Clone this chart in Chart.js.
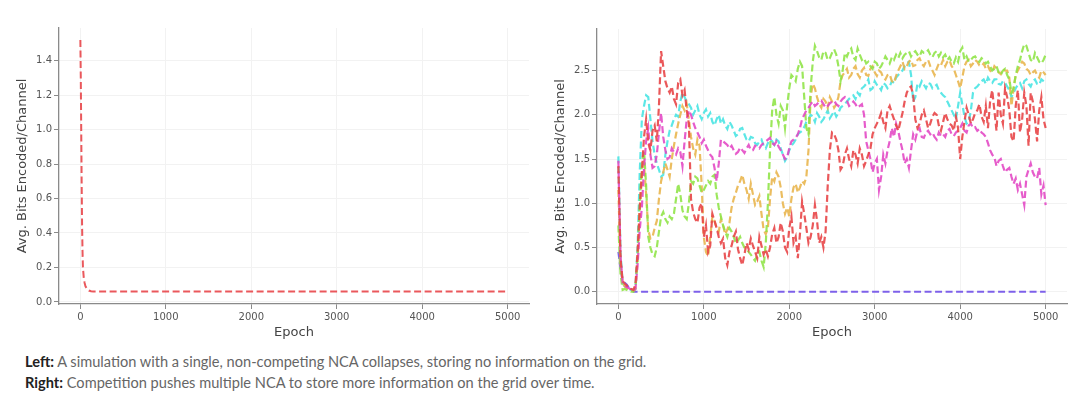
<!DOCTYPE html>
<html>
<head>
<meta charset="utf-8">
<script src="https://cdn.jsdelivr.net/npm/chart.js@4.4.1/dist/chart.umd.min.js"></script>
<style>
  html, body { margin: 0; padding: 0; background: #fff; }
  body { width: 1080px; height: 399px; position: relative; overflow: hidden; }
  .panel { position: absolute; top: 0; width: 540px; height: 345px; }
  #leftPanel { left: 0; }
  #rightPanel { left: 540px; }
  .caption {
    position: absolute; left: 25px; top: 351px;
    font-family: Lato, "Open Sans", sans-serif; font-size: 14.6px; line-height: 21px; color: #666;
  }
  .caption b { color: #222; }
</style>
</head>
<body>
<div class="panel" id="leftPanel"><canvas id="leftChart" width="540" height="345"></canvas></div>
<div class="panel" id="rightPanel"><canvas id="rightChart" width="540" height="345"></canvas></div>
<div class="caption">
  <div><b>Left:</b> A simulation with a single, non-competing NCA collapses, storing no information on the grid.</div>
  <div><b>Right:</b> Competition pushes multiple NCA to store more information on the grid over time.</div>
</div>

<script>
/* ---------- données ---------- */
const X_TICKS = [0, 1000, 2000, 3000, 4000, 5000];
const LEFT_Y_TICKS = [0, 0.2, 0.4, 0.6, 0.8, 1.0, 1.2, 1.4];
const RIGHT_Y_TICKS = [0, 0.5, 1.0, 1.5, 2.0, 2.5];

// panneau gauche : un seul NCA
const SOLO_EPOCHS = [0, 5, 10, 15, 20, 25, 30, 40, 50, 60, 80, 100, 125, 150, 5000];
const SOLO_BITS = [1.52, 1.3, 1.0, 0.7, 0.45, 0.3, 0.2, 0.14, 0.11, 0.09, 0.075, 0.066, 0.062, 0.06, 0.06];

// panneau droit : une valeur toutes les 25 époques (0 → 5000)
const EPOCHS = Array.from({ length: 201 }, (_, i) => 25 * i);

const RED = [
  1.42, 0.38, 0.12, 0.09, 0.07, 0.05, 0.03, 0.02, 0.08, 0.45, 0.95, 1.35, 1.75,
  1.95, 1.68, 1.6, 1.82, 1.88, 1.7, 2.1, 2.72, 2.55, 2.38, 2.3, 2.25, 2.32, 2.18, 2.12, 2.36, 2.4, 2.22, 2.28, 2.05,
  1.9, 1.05, 0.9, 0.82, 0.78, 0.95, 1.0, 0.62, 0.75, 0.45, 0.52, 0.88, 0.8, 0.72, 0.62, 0.55, 0.6, 0.38, 0.3, 0.45,
  0.52, 0.62, 0.68, 0.48, 0.38, 0.3, 0.42, 0.55, 0.48, 0.6, 0.52, 0.45, 0.38, 0.62, 0.52, 0.42, 0.48, 0.4, 0.5, 0.65,
  0.72, 0.55, 0.62, 0.78, 0.68, 0.5, 0.45, 0.72, 0.85, 0.55, 0.62, 0.38, 0.65, 1.02, 0.88, 0.72, 0.55, 0.62, 0.75, 0.98,
  0.8, 0.55, 0.62, 0.5, 0.68, 1.2, 1.6, 1.8, 1.78, 1.72, 1.6, 1.38, 1.42, 1.55, 1.62, 1.5, 1.42, 1.6, 1.55, 1.45,
  1.62, 1.55, 1.42, 1.48, 1.55, 1.62, 1.78, 1.85, 1.9, 1.95, 2.02, 1.92, 1.85, 2.05, 2.1, 2.02, 1.95, 1.88, 1.82, 1.92,
  2.02, 2.15, 2.25, 2.3, 2.32, 2.22, 1.95, 1.85, 1.9, 2.0, 2.05, 1.95, 1.85, 1.9, 1.98, 2.02, 2.0, 1.88, 1.82, 1.92,
  2.02, 1.95, 1.9, 1.88, 1.82, 1.98, 1.85, 1.5, 1.75, 1.92, 2.08, 2.0, 1.9, 1.95, 2.02, 2.05, 2.12, 1.98, 1.92, 2.1,
  1.85, 2.15, 2.28, 2.05, 1.82, 2.25, 2.0, 1.9, 2.3, 2.2, 2.05, 1.75, 1.7, 2.1, 2.28, 1.8, 1.95, 2.25, 2.1, 1.65,
  2.25, 2.15, 1.95, 1.7, 2.05, 2.2, 1.95, 1.85,
];
const ORANGE = [
  1.15, 0.32, 0.1, 0.06, 0.04, 0.03, 0.02, 0.01, 0.04, 0.35, 0.9, 1.3, 1.45,
  1.1, 0.7, 0.6, 0.62, 0.72, 0.8, 1.05, 1.25, 1.35, 1.45, 1.38, 1.3, 1.5, 1.65, 1.78, 1.9, 2.0, 2.1, 2.05, 2.12,
  1.95, 1.75, 1.62, 1.55, 1.72, 1.65, 1.2, 0.62, 0.45, 0.4, 0.62, 0.85, 0.8, 0.72, 0.68, 0.82, 0.75, 0.65, 0.7, 0.78,
  0.95, 1.05, 1.12, 1.2, 1.25, 1.32, 1.22, 1.15, 1.05, 1.22, 1.1, 0.98, 1.02, 1.08, 0.88, 0.7, 0.65, 0.72, 1.05, 1.3,
  1.25, 1.35, 1.3, 1.18, 1.0, 0.88, 0.95, 0.85, 1.05, 1.18, 1.22, 1.12, 1.18, 1.25, 1.22, 1.3, 1.6, 2.2, 2.35, 2.3,
  2.2, 2.12, 2.08, 2.18, 2.15, 2.08, 2.2, 2.15, 2.08, 2.12, 2.2, 2.38, 2.45, 2.48, 2.52, 2.42, 2.45, 2.52, 2.55, 2.46,
  2.42, 2.5, 2.53, 2.45, 2.44, 2.52, 2.55, 2.48, 2.44, 2.5, 2.48, 2.42, 2.4, 2.45, 2.46, 2.38, 2.36, 2.44, 2.5, 2.55,
  2.6, 2.52, 2.55, 2.6, 2.62, 2.55, 2.56, 2.62, 2.64, 2.58, 2.55, 2.6, 2.62, 2.55, 2.5, 2.45, 2.52, 2.58, 2.56, 2.62,
  2.55, 2.6, 2.62, 2.55, 2.52, 2.45, 2.38, 2.3, 2.42, 2.55, 2.6, 2.62, 2.55, 2.58, 2.62, 2.6, 2.56, 2.55, 2.58, 2.52,
  2.55, 2.5, 2.48, 2.55, 2.52, 2.48, 2.46, 2.52, 2.5, 2.5, 2.42, 2.1, 2.3, 2.45, 2.5, 2.55, 2.6, 2.58, 2.52, 2.5,
  2.45, 2.48, 2.5, 2.45, 2.42, 2.5, 2.48, 2.45,
];
const GREEN = [
  0.75, 0.2, 0.02, 0.03, 0.02, 0.01, 0.0, 0.0, 0.03, 0.4, 1.0, 1.45, 1.6,
  1.2, 0.62, 0.5, 0.42, 0.4, 0.5, 0.68, 0.85, 0.9, 0.82, 0.78, 0.85, 0.82, 0.88, 1.05, 1.22, 1.1, 0.92, 0.85, 0.82,
  1.0, 1.25, 1.22, 1.3, 1.28, 1.2, 1.12, 1.15, 1.2, 1.25, 1.22, 1.3, 1.32, 1.1, 0.95, 0.85, 0.75, 0.68, 0.62, 0.72,
  0.68, 0.62, 0.55, 0.58, 0.62, 0.55, 0.5, 0.48, 0.45, 0.42, 0.38, 0.35, 0.42, 0.45, 0.35, 0.28, 0.55, 1.0, 1.6, 2.05,
  2.2, 2.0, 1.9, 2.1, 2.05, 1.85, 2.1, 2.3, 2.45, 2.42, 2.38, 2.52, 2.6, 2.55, 2.2, 1.85, 1.78, 2.3, 2.6, 2.78,
  2.72, 2.65, 2.62, 2.72, 2.7, 2.62, 2.64, 2.7, 2.74, 2.68, 2.55, 2.38, 2.5, 2.7, 2.66, 2.72, 2.75, 2.65, 2.62, 2.75,
  2.68, 2.62, 2.64, 2.58, 2.6, 2.55, 2.52, 2.6, 2.58, 2.52, 2.55, 2.6, 2.66, 2.62, 2.58, 2.65, 2.62, 2.68, 2.64, 2.7,
  2.64, 2.68, 2.7, 2.72, 2.66, 2.7, 2.72, 2.68, 2.66, 2.72, 2.7, 2.7, 2.73, 2.68, 2.65, 2.7, 2.72, 2.66, 2.7, 2.65,
  2.68, 2.62, 2.65, 2.6, 2.58, 2.65, 2.6, 2.72, 2.76, 2.62, 2.66, 2.6, 2.62, 2.65, 2.66, 2.62, 2.6, 2.64, 2.62, 2.58,
  2.6, 2.55, 2.5, 2.52, 2.55, 2.48, 2.45, 2.5, 2.52, 2.45, 2.4, 2.25, 2.3, 2.45, 2.55, 2.62, 2.72, 2.8, 2.78, 2.7,
  2.62, 2.6, 2.7, 2.65, 2.6, 2.58, 2.62, 2.68,
];
const CYAN = [
  1.53, 0.45, 0.1, 0.06, 0.05, 0.03, 0.02, 0.01, 0.05, 0.5, 1.35, 1.95, 2.1,
  2.22, 2.2, 1.95, 1.7, 1.55, 1.45, 1.38, 1.3, 1.32, 1.55, 1.7, 1.82, 1.88, 1.95, 2.0, 1.98, 2.15, 2.25, 2.2, 2.15,
  2.12, 2.08, 2.0, 2.05, 2.1, 2.0, 1.95, 2.02, 2.06, 1.98, 2.02, 1.92, 1.88, 1.95, 2.0, 1.9, 1.95, 1.88, 1.84, 1.92,
  1.88, 1.82, 1.76, 1.78, 1.84, 1.85, 1.78, 1.72, 1.7, 1.75, 1.74, 1.68, 1.66, 1.7, 1.72, 1.65, 1.62, 1.68, 1.72, 1.7,
  1.66, 1.72, 1.7, 1.62, 1.55, 1.48, 1.52, 1.6, 1.65, 1.68, 1.72, 1.78, 1.8, 1.82, 1.86, 1.92, 1.95, 2.0, 1.98, 1.92,
  2.02, 1.98, 1.92, 1.95, 2.0, 2.05, 1.96, 2.0, 2.04, 1.98, 2.02, 2.08, 2.1, 2.12, 2.15, 2.18, 2.2, 2.22, 2.18, 2.25,
  2.22, 2.3, 2.32, 2.35, 2.4, 2.28, 2.3, 2.38, 2.34, 2.32, 2.28, 2.36, 2.34, 2.3, 2.32, 2.38, 2.36, 2.42, 2.45, 2.48,
  2.5, 2.55, 2.58, 2.6, 2.45, 2.15, 2.2, 2.35, 2.32, 2.38, 2.34, 2.3, 2.36, 2.35, 2.3, 2.32, 2.34, 2.28, 2.25, 2.22,
  2.2, 2.15, 2.1, 2.05, 2.0, 1.95, 2.1, 2.25, 2.12, 1.98, 1.9, 1.92, 2.05, 2.25, 2.3, 2.32, 2.35, 2.38, 2.4, 2.35,
  2.42, 2.38, 2.36, 2.4, 2.4, 2.35, 2.34, 2.38, 2.36, 2.32, 2.28, 2.2, 2.25, 2.3, 2.34, 2.36, 2.3, 2.38, 2.4, 2.35,
  2.32, 2.38, 2.4, 2.35, 2.34, 2.4, 2.38, 2.36,
];
const MAGENTA = [
  1.48, 0.4, 0.1, 0.07, 0.05, 0.04, 0.02, 0.01, 0.03, 0.3, 0.7, 0.95, 1.4,
  1.7, 1.85, 1.55, 1.4, 1.42, 1.55, 1.8, 2.02, 1.75, 1.6, 1.5, 1.52, 1.62, 1.58, 1.55, 1.62, 1.58, 1.42, 1.7, 1.95,
  2.05, 2.0, 1.92, 1.85, 1.8, 1.75, 1.68, 1.72, 1.65, 1.6, 1.55, 1.52, 1.4, 1.25, 1.45, 1.72, 1.7, 1.68, 1.66, 1.62,
  1.65, 1.6, 1.56, 1.58, 1.63, 1.6, 1.57, 1.62, 1.66, 1.6, 1.6, 1.65, 1.64, 1.62, 1.66, 1.68, 1.7, 1.72, 1.74, 1.68,
  1.66, 1.7, 1.64, 1.6, 1.55, 1.5, 1.52, 1.62, 1.7, 1.72, 1.74, 1.78, 1.85, 1.95, 2.0, 2.05, 2.08, 2.12, 2.15, 2.1,
  2.12, 2.15, 2.16, 2.12, 2.08, 2.1, 2.13, 2.15, 2.16, 2.12, 2.1, 2.15, 2.18, 2.2, 2.16, 2.1, 2.12, 2.15, 2.12, 2.08,
  2.1, 2.12, 2.0, 1.7, 1.6, 1.5, 1.35, 1.45, 1.5, 1.15, 1.3, 1.55, 1.45, 1.6, 1.7, 1.85, 1.75, 1.9, 1.82, 1.7,
  1.6, 1.45, 1.5, 1.4, 1.6, 1.78, 1.72, 1.82, 1.85, 1.75, 1.74, 1.8, 1.82, 1.78, 1.8, 1.75, 1.72, 1.8, 1.76, 1.78,
  1.75, 1.82, 1.84, 1.78, 1.76, 1.8, 1.82, 1.85, 1.9, 1.82, 1.8, 1.88, 1.9, 1.85, 1.86, 1.82, 1.84, 1.8, 1.78, 1.75,
  1.68, 1.6, 1.55, 1.52, 1.42, 1.48, 1.5, 1.42, 1.35, 1.38, 1.4, 1.3, 1.22, 1.28, 1.15, 1.22, 1.1, 0.98, 1.3, 1.38,
  1.45, 1.35, 1.3, 1.28, 1.4, 1.1, 1.2, 0.98,
];
// le NCA qui s'effondre tout de suite
const PURPLE_EPOCHS = [0, 25, 50, 75, 100, 125, 150, 175, 200, 5000];
const PURPLE = [0.45, 0.25, 0.12, 0.1, 0.08, 0.04, 0.02, 0, 0, 0];

/* ---------- style ---------- */
const FONT = "'DejaVu Sans', sans-serif";
const TICK_COLOR = "#555";
const AXIS_COLOR = "#8a8a8a";
const GRID_COLOR = "#f2f2f2";

const pts = (xs, ys) => xs.map((x, i) => ({ x, y: ys[i] }));

function line(label, xs, ys, color, width) {
  return {
    label, data: pts(xs, ys), borderColor: color, borderWidth: width || 2,
    borderDash: [7, 3.5], pointRadius: 0, fill: false, tension: 0,
  };
}

function options({ yMin, yMax, yTicks, yWidth, padRight, padTop, titlePad }) {
  return {
    responsive: false, animation: false, devicePixelRatio: 1,
    layout: { padding: { left: 0, right: padRight, top: padTop, bottom: 0 } },
    plugins: { legend: { display: false }, tooltip: { enabled: false } },
    scales: {
      x: {
        type: "linear", min: -250, max: 5250,
        afterBuildTicks: (s) => { s.ticks = X_TICKS.map((v) => ({ value: v })); },
        afterFit: (s) => { s.height = 41; },
        ticks: { color: TICK_COLOR, font: { family: FONT, size: 10 }, padding: 2, maxRotation: 0, autoSkip: false,
                 callback: (v) => String(v) },
        grid: { color: GRID_COLOR, tickColor: AXIS_COLOR, tickLength: 5 },
        border: { color: AXIS_COLOR, width: 1.3 },
        title: { display: true, text: "Epoch", color: "#444", font: { family: FONT, size: 13 },
                 padding: { top: 0, bottom: 5 } },
      },
      y: {
        type: "linear", min: yMin, max: yMax,
        afterBuildTicks: (s) => { s.ticks = yTicks.map((v) => ({ value: v })); },
        afterFit: (s) => { s.width = yWidth; },
        ticks: { color: TICK_COLOR, font: { family: FONT, size: 10 }, padding: 2, autoSkip: false,
                 callback: (v) => v.toFixed(1) },
        grid: { color: GRID_COLOR, tickColor: AXIS_COLOR, tickLength: 5 },
        border: { color: AXIS_COLOR, width: 1.3 },
        title: { display: true, text: "Avg. Bits Encoded/Channel", color: "#444", font: { family: FONT, size: 13 },
                 padding: { top: titlePad, bottom: 0 } },
      },
    },
  };
}

new Chart(document.getElementById("leftChart"), {
  type: "line",
  data: { datasets: [line("NCA", SOLO_EPOCHS, SOLO_BITS, "rgba(232,70,74,0.9)")] },
  options: options({ yMin: -0.012, yMax: 1.589, yTicks: LEFT_Y_TICKS, yWidth: 59, padRight: 11, padTop: 28, titlePad: 15 }),
});

new Chart(document.getElementById("rightChart"), {
  type: "line",
  data: {
    datasets: [
      line("rouge", EPOCHS, RED, "rgba(232,70,72,0.9)", 2.2),
      line("magenta", EPOCHS, MAGENTA, "rgba(226,70,196,0.88)", 2.2),
      line("vert", EPOCHS, GREEN, "rgba(142,228,70,0.88)", 2.2),
      line("orange", EPOCHS, ORANGE, "rgba(232,180,74,0.88)", 2.2),
      line("cyan", EPOCHS, CYAN, "rgba(70,228,226,0.88)", 2.2),
      line("violet", PURPLE_EPOCHS, PURPLE, "rgba(112,80,232,0.9)", 2),
    ],
  },
  options: options({ yMin: -0.139, yMax: 2.97, yTicks: RIGHT_Y_TICKS, yWidth: 57, padRight: 13, padTop: 29, titlePad: 13 }),
});
</script>
</body>
</html>
